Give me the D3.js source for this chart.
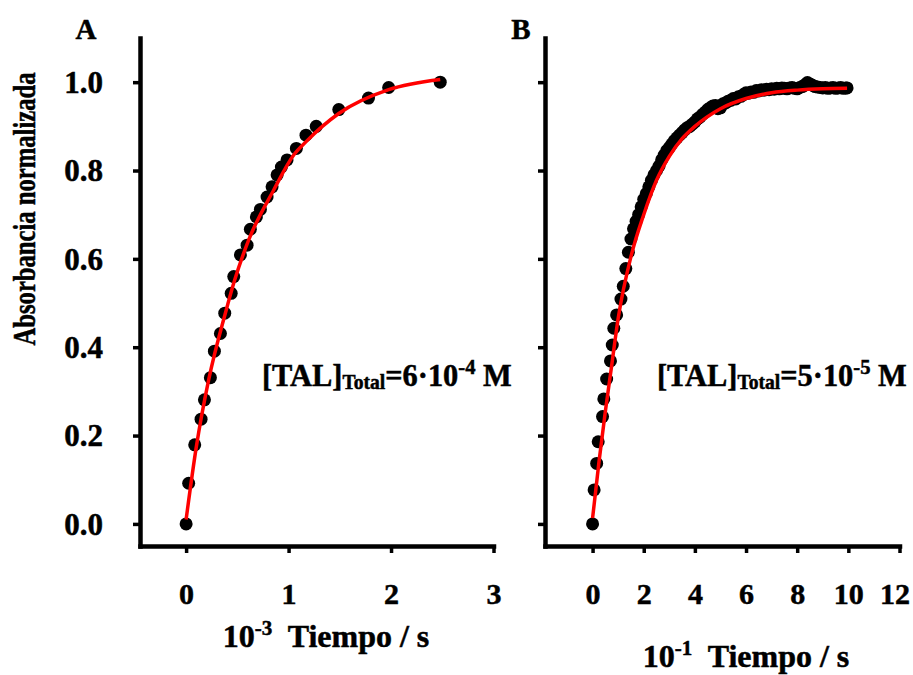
<!DOCTYPE html>
<html lang="es">
<head>
  <meta charset="UTF-8">
  <title>Absorbancia normalizada frente al tiempo</title>
  <script src="https://d3js.org/d3.v7.min.js"></script>
  <style>
    body {
      margin: 0;
      background: #fff;
    }
    svg text {
      font-family: 'Liberation Serif', 'Times New Roman', serif;
      font-weight: bold;
      fill: #000;
      stroke: #000;
      stroke-width: 0.5px;
      white-space: pre;
    }
    .axis path, .axis line {
      stroke: #000;
    }
  </style>
</head>
<body>
  <div id="chart"></div>

  <script>
    // Panel A: [TAL]Total = 6·10-4 M   (tiempo en 10^3 s)
    const tA = [0, 0.025, 0.084, 0.146, 0.179, 0.237, 0.276, 0.335, 0.377, 0.44, 0.465, 0.53,
                0.595, 0.627, 0.686, 0.725, 0.79, 0.839, 0.888, 0.93, 0.985, 1.076, 1.17,
                1.27, 1.49, 1.78, 1.977, 2.48];
    const absA = [0, 0.092, 0.179, 0.237, 0.281, 0.331, 0.391, 0.431, 0.477, 0.522, 0.56, 0.609,
                  0.631, 0.667, 0.695, 0.712, 0.74, 0.763, 0.79, 0.808, 0.824, 0.85, 0.88,
                  0.90, 0.938, 0.964, 0.988, 1.0];
    // red fitted curve
    const fitTA = [0, 0.1, 0.22, 0.383, 0.474, 0.611, 0.855, 1.05, 1.174, 1.49, 1.977, 2.48];
    const fitAbsA = [0.01, 0.175, 0.326, 0.477, 0.552, 0.643, 0.756, 0.835, 0.866, 0.929, 0.983, 1.006];

    // Panel B: [TAL]Total = 5·10-5 M   (tiempo en 10^1 s)
    const tB = [0, 0.06, 0.16, 0.22, 0.39, 0.44, 0.55, 0.7, 0.77, 0.83, 0.94, 1.11, 1.2,
                1.3, 1.4, 1.5, 1.6, 1.7, 1.8, 1.9, 2.0, 2.1, 2.2, 2.3, 2.4, 2.5, 2.6, 2.7, 2.8, 2.9,
                3.0, 3.1, 3.2, 3.3, 3.4, 3.5, 3.6, 3.7, 3.8, 3.9, 4.0, 4.1, 4.2, 4.3, 4.4, 4.5,
                4.6, 4.7, 4.8, 4.9, 5.0, 5.1, 5.2, 5.3, 5.4, 5.5, 5.6, 5.7, 5.8, 5.9, 6.0, 6.1,
                6.2, 6.3, 6.4, 6.5, 6.6, 6.7, 6.8, 6.9, 7.0, 7.1, 7.2, 7.3, 7.4, 7.5, 7.6, 7.7,
                7.8, 7.9, 8.0, 8.1, 8.2, 8.3, 8.4, 8.5, 8.6, 8.7, 8.8, 8.9, 9.0, 9.1, 9.2, 9.3,
                9.4, 9.5, 9.6, 9.7, 9.8, 9.9, 9.95];
    const absB = [0, 0.077, 0.137, 0.186, 0.243, 0.283, 0.328, 0.369, 0.405, 0.443, 0.473, 0.509, 0.538,
                  0.578, 0.615, 0.645, 0.668, 0.685, 0.700, 0.718, 0.735, 0.748, 0.763, 0.778, 0.79,
                  0.80, 0.81, 0.824, 0.835, 0.845, 0.852, 0.86, 0.868, 0.874, 0.88, 0.886, 0.892,
                  0.897, 0.90, 0.905, 0.91, 0.917, 0.921, 0.927, 0.932, 0.938, 0.942, 0.946, 0.947,
                  0.94, 0.942, 0.951, 0.953, 0.957, 0.959, 0.963, 0.962, 0.967, 0.968, 0.972, 0.976,
                  0.975, 0.978, 0.977, 0.981, 0.98, 0.983, 0.982, 0.984, 0.983, 0.985, 0.984, 0.986,
                  0.985, 0.987, 0.986, 0.985, 0.987, 0.988, 0.986, 0.985, 0.988, 0.99, 0.994, 0.999,
                  0.996, 0.993, 0.99, 0.989, 0.988, 0.987, 0.988, 0.986, 0.987, 0.988, 0.986, 0.987,
                  0.988, 0.986, 0.987, 0.987];
    const fitTB = [0, 0.25, 0.5, 0.75, 1, 1.5, 2, 2.5, 3, 3.5, 4, 5, 6, 7, 8, 9, 9.95];
    const fitAbsB = [0.013, 0.14, 0.255, 0.36, 0.465, 0.605, 0.70, 0.778, 0.832, 0.872, 0.90, 0.94,
                     0.963, 0.976, 0.982, 0.985, 0.986];

    const yTicks = [0, 0.2, 0.4, 0.6, 0.8, 1.0];
    const xTicksA = [0, 1, 2, 3];
    const xTicksB = [0, 2, 4, 6, 8, 10, 12];

    const W = 913, H = 675;
    const svg = d3.select("#chart").append("svg")
      .attr("width", W)
      .attr("height", H);

    const y = d3.scaleLinear().domain([-0.05, 1.1]).range([546, 38]);

    function panel(opts) {
      const x = d3.scaleLinear().domain(opts.xDomain).range(opts.xRange);
      const g = svg.append("g");

      // data points
      g.selectAll("circle")
        .data(opts.t.map((t, i) => [t, opts.v[i]]))
        .enter()
        .append("circle")
        .attr("cx", d => x(d[0]))
        .attr("cy", d => y(d[1]))
        .attr("r", 6.5)
        .attr("fill", "#000");

      // fitted curve
      const line = d3.line()
        .x(d => x(d[0]))
        .y(d => y(d[1]))
        .curve(d3.curveMonotoneX);
      g.append("path")
        .datum(opts.ft.map((t, i) => [t, opts.fv[i]]))
        .attr("d", line)
        .attr("fill", "none")
        .attr("stroke", "#ff0000")
        .attr("stroke-width", 3.5);

      // y axis
      const yAxis = g.append("g")
        .attr("class", "axis")
        .attr("transform", `translate(${opts.xRange[0]},0)`)
        .call(d3.axisLeft(y).tickValues(yTicks).tickSize(7).tickSizeOuter(0)
          .tickFormat(opts.yLabels ? d3.format(".1f") : ""));
      yAxis.select(".domain").attr("stroke-width", 4.5).attr("stroke-linecap", "square");
      yAxis.selectAll(".tick line").attr("stroke-width", 3.5);
      yAxis.selectAll(".tick text")
        .attr("x", -37)
        .attr("dy", "0.33em")
        .style("font-size", "31px");

      // x axis
      const xAxis = g.append("g")
        .attr("class", "axis")
        .attr("transform", "translate(0,546)")
        .call(d3.axisBottom(x).tickValues(opts.xTicks).tickSize(7).tickSizeOuter(0)
          .tickFormat(d3.format("d")));
      xAxis.select(".domain").attr("stroke-width", 4.5).attr("stroke-linecap", "square");
      xAxis.selectAll(".tick line").attr("stroke-width", 3.5);
      xAxis.selectAll(".tick text")
        .attr("y", 58)
        .attr("dy", 0)
        .attr("dx", (d, i, n) => i === n.length - 1 ? opts.lastDx : 0)
        .style("font-size", "30px");

      // x axis title
      const xt = svg.append("text")
        .attr("x", opts.titleX)
        .attr("y", opts.titleY)
        .attr("text-anchor", "middle")
        .style("font-size", "32px");
      xt.append("tspan").text("10");
      xt.append("tspan").attr("dy", -12).style("font-size", "21px").text(opts.exp);
      xt.append("tspan").attr("dy", 12).text("  Tiempo / s");

      // concentration label
      const lab = svg.append("text")
        .attr("transform", `translate(${opts.labX},386) scale(0.98,1)`)
        .style("font-size", "31px");
      lab.append("tspan").text("[TAL]");
      lab.append("tspan").attr("dy", 3).style("font-size", "20px").text("Total");
      lab.append("tspan").attr("dy", -3).text("=" + opts.conc);
      lab.append("tspan").attr("dy", -12).style("font-size", "21px").text(opts.concExp);
      lab.append("tspan").attr("dy", 12).text(" M");

      // panel letter
      svg.append("text")
        .attr("x", opts.letterX)
        .attr("y", 39)
        .attr("text-anchor", "middle")
        .style("font-size", "29px")
        .text(opts.letter);
    }

    panel({
      t: tA, v: absA, ft: fitTA, fv: fitAbsA,
      xDomain: [-0.45, 3], xRange: [140, 493.5], xTicks: xTicksA, lastDx: 0,
      yLabels: true, exp: "-3", titleX: 326, titleY: 647,
      labX: 262, conc: "6·10", concExp: "-4",
      letter: "A", letterX: 86
    });

    panel({
      t: tB, v: absB, ft: fitTB, fv: fitAbsB,
      xDomain: [-1.86, 12], xRange: [545, 899.5], xTicks: xTicksB, lastDx: -5,
      yLabels: false, exp: "-1", titleX: 746, titleY: 667,
      labX: 657, conc: "5·10", concExp: "-5",
      letter: "B", letterX: 521
    });

    // y axis title
    svg.append("text")
      .attr("transform", "translate(35,209) rotate(-90) scale(0.77,1)")
      .attr("text-anchor", "middle")
      .style("font-size", "32px")
      .text("Absorbancia normalizada");
  </script>
</body>
</html>
